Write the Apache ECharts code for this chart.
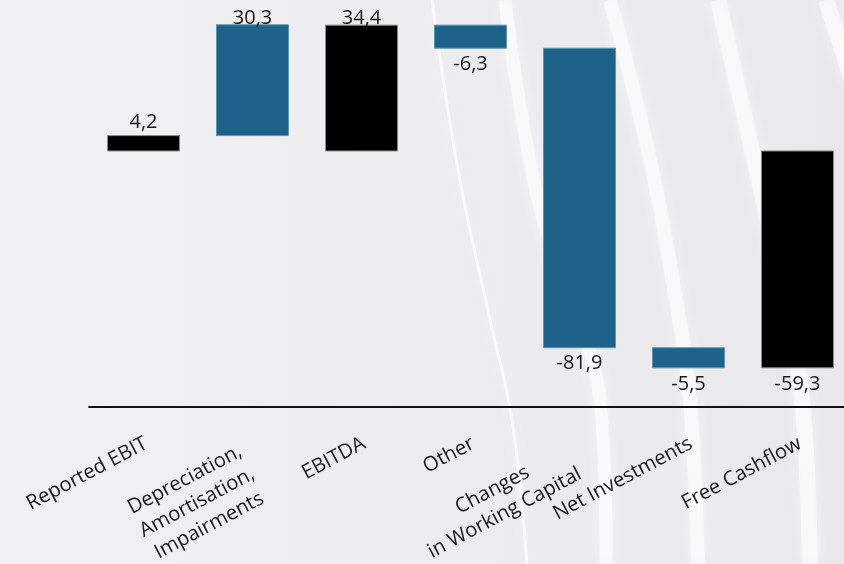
<!DOCTYPE html>
<html>
<head>
<meta charset="utf-8">
<script src="https://cdn.jsdelivr.net/npm/echarts@6/dist/echarts.min.js"></script>
<style>
html,body{margin:0;padding:0;background:#eeeef1;}
#chart{width:844px;height:564px;}
</style>
</head>
<body>
<div id="chart"></div>
<script>
// ---- data ----
const categories = [
  'Reported EBIT',
  'Depreciation,\nAmortisation,\nImpairments',
  'EBITDA',
  'Other',
  'Changes\nin Working Capital',
  'Net Investments',
  'Free Cashflow'
];
const values = [4.2, 30.3, 34.4, -6.3, -81.9, -5.5, -59.3];
const isTotal = [true, false, true, false, false, false, true];

// ---- waterfall ranges ----
const ranges = [];
let running = 0;
values.forEach(function (v, i) {
  let start, end;
  if (isTotal[i]) { start = 0; end = v; }
  else { start = running; end = running + v; }
  running = end;
  ranges.push([i, start, end, v, isTotal[i] ? 1 : 0]);
});

function fmt(v) { return v.toFixed(1).replace('.', ','); }

const chart = echarts.init(document.getElementById('chart'), null, {renderer: 'canvas'});

function band(points, w, op) {
  return {
    type: 'polyline', silent: true, z: -10,
    shape: {points: points, smooth: 0.4},
    style: {stroke: '#ffffff', lineWidth: w, opacity: op, fill: null, shadowBlur: 14, shadowColor: '#ffffff'}
  };
}

chart.setOption({
  backgroundColor: {
    type: 'linear', x: 0, y: 0, x2: 1, y2: 0,
    colorStops: [{offset: 0, color: '#f1f1f3'}, {offset: 1, color: '#e9e9ec'}]
  },
  animation: false,
  graphic: [
    band([[432,0],[458,170],[490,320],[512,420],[527,564]], 3, 0.7),
    band([[505,0],[538,200],[580,320],[600,400],[606,564]], 13, 0.55),
    band([[610,0],[650,160],[676,300],[690,400],[698,564]], 14, 0.55),
    band([[718,0],[752,150],[785,300],[802,400],[810,564]], 16, 0.55),
    band([[826,0],[852,80]], 16, 0.55)
  ],
  grid: {left: 89, width: 763, top: 1, bottom: 157, containLabel: false, outerBoundsMode: 'none'},
  xAxis: {
    type: 'category',
    data: categories,
    axisLine: {show: true, onZero: false, lineStyle: {color: '#111', width: 2}},
    axisTick: {show: false},
    splitLine: {show: false},
    axisLabel: {
      interval: 0,
      rotate: 28,
      margin: 22,
      verticalAlign: 'top',
      color: '#1a1a1a',
      fontFamily: 'Open Sans',
      fontSize: 20.2,
      formatter: function (val) {
        const lines = val.split('\n');
        if (lines.length === 1) return '{c|' + val + '}{s1| }';
        return lines.map(function (l) { return '{c|' + l + '}{sp| }'; }).join('\n');
      },
      rich: {
        c: {align: 'center', fontFamily: 'Open Sans', fontSize: 20.2, color: '#1a1a1a', lineHeight: 26},
        sp: {align: 'right', width: 20, fontSize: 20.2, lineHeight: 26},
        s1: {align: 'right', width: 4, fontSize: 20.2, lineHeight: 26}
      }
    }
  },
  yAxis: {
    type: 'value', min: -70, max: 41,
    show: false,
    splitLine: {show: false}
  },
  series: [{
    type: 'custom',
    z: 2,
    data: ranges,
    encode: {x: 0, y: [1, 2]},
    renderItem: function (params, api) {
      const i = api.value(0);
      const s = api.value(1), e = api.value(2), v = api.value(3), tot = api.value(4);
      const p1 = api.coord([i, s]);
      const p2 = api.coord([i, e]);
      const bw = api.size([1, 0])[0] * 0.66;
      const top = Math.min(p1[1], p2[1]);
      const bot = Math.max(p1[1], p2[1]);
      const color = tot ? '#000000' : '#1d6389';
      const stroke = tot ? '#8a8a8a' : '#5f93b3';
      const children = [{
        type: 'rect',
        shape: {x: p1[0] - bw / 2, y: top, width: bw, height: bot - top},
        style: {fill: color, stroke: stroke, lineWidth: 1}
      }];
      let ty, va;
      if (v >= 0) { ty = Math.max(top - 3, 28); va = 'bottom'; }
      else { ty = bot + 6; va = 'top'; }
      children.push({
        type: 'text',
        style: {
          x: p1[0], y: ty, text: fmt(v), align: 'center', verticalAlign: va,
          fill: '#1a1a1a', fontSize: 20, fontFamily: 'Open Sans'
        },
        z2: 10
      });
      return {type: 'group', children: children};
    }
  }]
});
</script>
</body>
</html>
